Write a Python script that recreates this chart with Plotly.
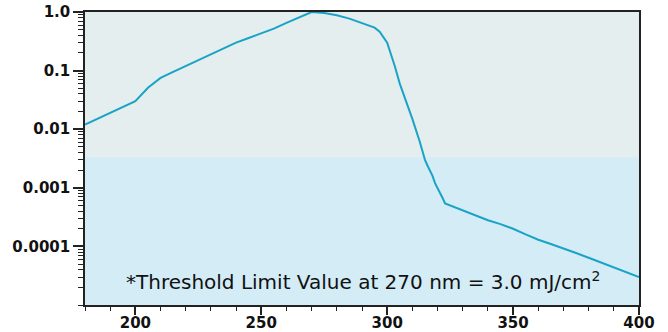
import math
import plotly.graph_objects as go

# Relative spectral effectiveness S(lambda) of UV radiation, 180-400 nm
wavelength_nm = [180, 190, 200, 205, 210, 215, 220, 225, 230, 235, 240, 245,
                 250, 254, 255, 260, 265, 270, 275, 280, 285, 290, 295, 297,
                 300, 303, 305, 308, 310, 313, 315, 316, 317, 318, 319, 320,
                 322, 323, 325, 328, 330, 333, 335, 340, 345, 350, 355, 360,
                 365, 370, 375, 380, 385, 390, 395, 400]
effectiveness = [0.012, 0.019, 0.030, 0.051, 0.075, 0.095, 0.120, 0.150,
                 0.190, 0.240, 0.300, 0.360, 0.430, 0.500, 0.520, 0.650,
                 0.810, 1.000, 0.960, 0.880, 0.770, 0.640, 0.540, 0.460,
                 0.300, 0.120, 0.060, 0.026, 0.015, 0.006, 0.003, 0.0024,
                 0.0020, 0.0016, 0.0012, 0.0010, 0.00067, 0.00054, 0.00050,
                 0.00044, 0.00041, 0.00037, 0.00034, 0.00028, 0.00024,
                 0.00020, 0.00016, 0.00013, 0.00011, 0.000093, 0.000077,
                 0.000064, 0.000053, 0.000044, 0.000036, 0.000030]

y_tick_values = [1.0, 0.1, 0.01, 0.001, 0.0001]
y_tick_labels = ["1.0", "0.1", "0.01", "0.001", "0.0001"]
x_tick_values = [200, 250, 300, 350, 400]

band_boundary = 0.0033          # upper edge of the lower shaded band
y_min, y_max = 1e-5, 1.0
x_min, x_max = 180, 400

note_text = "*Threshold Limit Value at 270 nm = 3.0 mJ/cm<sup>2</sup>"

fig = go.Figure()
fig.add_trace(go.Scatter(
    x=wavelength_nm, y=effectiveness, mode="lines",
    line=dict(color="#1aa3c6", width=2),
    hoverinfo="x+y", showlegend=False,
))

band_top = (math.log10(band_boundary) - math.log10(y_min)) / (
    math.log10(y_max) - math.log10(y_min))
fig.add_shape(type="rect", xref="paper", yref="paper",
              x0=0, x1=1, y0=0, y1=band_top,
              fillcolor="#d3ecf5", line=dict(width=0), layer="below")

fig.add_annotation(
    xref="paper", yref="paper", x=0.502, y=0.082,
    text=note_text, showarrow=False,
    font=dict(family="DejaVu Sans", size=20, color="#111111"),
    xanchor="center", yanchor="middle",
)

tick_font = dict(family="DejaVu Sans", size=15, color="#111111", weight="bold")

fig.update_xaxes(
    range=[x_min, x_max], tickvals=x_tick_values,
    ticks="outside", ticklen=8, tickwidth=1.5, tickcolor="#222222",
    minor=dict(dtick=10, tick0=180, ticks="outside", ticklen=4,
               tickwidth=1.2, tickcolor="#222222"),
    showline=True, linecolor="#222222", linewidth=1.5, mirror=True,
    showgrid=False, zeroline=False, tickfont=tick_font, automargin=False,
    ticklabelstandoff=-5,
)
fig.update_yaxes(
    type="log", range=[math.log10(y_min), math.log10(y_max)],
    tickvals=y_tick_values, ticktext=y_tick_labels,
    ticks="outside", ticklen=10, tickwidth=1.5, tickcolor="#222222",
    minor=dict(ticks="outside", ticklen=5, tickwidth=1.2,
               tickcolor="#222222", dtick="D1"),
    showline=True, linecolor="#222222", linewidth=1.5, mirror=True,
    showgrid=False, zeroline=False, tickfont=tick_font, automargin=False,
)

fig.update_layout(
    width=668, height=332,
    margin=dict(l=85, r=29, t=12, b=27, autoexpand=False),
    plot_bgcolor="#e4eeee", paper_bgcolor="white",
)

fig.write_html("out.html")
